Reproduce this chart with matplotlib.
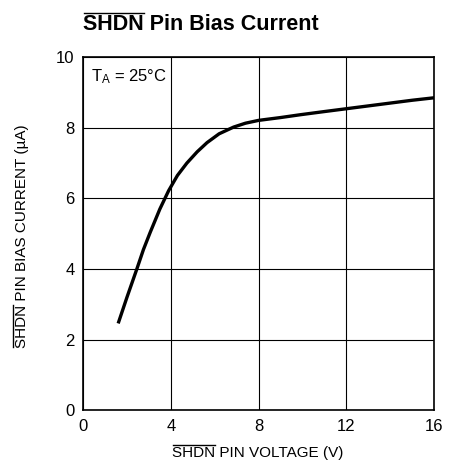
"""
SHDN pin bias current vs SHDN pin voltage
"""
import matplotlib
matplotlib.use('Agg')
import matplotlib.pyplot as plt
from matplotlib.lines import Line2D

FONT = ['Liberation Sans Narrow', 'Liberation Sans', 'DejaVu Sans']

VOLTAGE = [1.6, 2.0, 2.45, 2.75, 3.06, 3.5, 3.9, 4.3, 4.73, 5.2, 5.65, 6.2, 6.86,
           7.4, 8.0, 9.0, 9.9, 11.0, 12.0, 13.0, 14.0, 15.0, 16.0]
CURRENT = [2.46, 3.2, 4.0, 4.55, 5.04, 5.7, 6.22, 6.65, 7.0, 7.32, 7.58, 7.83, 8.02,
           8.13, 8.21, 8.29, 8.37, 8.46, 8.54, 8.62, 8.70, 8.78, 8.85]
X_TICKS = [0, 4, 8, 12, 16]
Y_TICKS = [0, 2, 4, 6, 8, 10]

fig = plt.figure(figsize=(4.49, 4.61), dpi=100)
ax = fig.add_axes([0.185, 0.11, 0.782, 0.766])
ax.plot(VOLTAGE, CURRENT, color='black', lw=2.4, solid_capstyle='butt',
        solid_joinstyle='round')
ax.set_xlim(0, 16)
ax.set_ylim(0, 10)
ax.set_xticks(X_TICKS)
ax.set_yticks(Y_TICKS)
ax.grid(True, color='black', lw=0.8)
ax.tick_params(length=0, labelsize=12, pad=6)
for lab in ax.get_xticklabels() + ax.get_yticklabels():
    lab.set_family(FONT)
for sp in ax.spines.values():
    sp.set_linewidth(1.2)

ax.text(0.35, 9.45, '$\\mathregular{T_A}$ = 25°C', fontsize=12, family=FONT,
        va='center', ha='left')

title = fig.text(83 / 449, 1 - 25 / 461, 'SHDN Pin Bias Current', fontsize=15.5,
                 weight='bold', family=FONT, va='center', ha='left')
xlab = fig.text(258 / 449, 1 - 453 / 461, 'SHDN PIN VOLTAGE (V)', fontsize=11,
                family=FONT, va='center', ha='center')
ylab = fig.text(22 / 449, 1 - 236 / 461, 'SHDN PIN BIAS CURRENT (µA)', fontsize=11,
                family=FONT, va='center', ha='center', rotation=90)

# overlines on "SHDN"
fig.canvas.draw()
r = fig.canvas.get_renderer()


def overline(txt, vertical=False):
    full = txt.get_window_extent(r)
    probe = fig.text(0, 0, 'SHDN', fontsize=txt.get_fontsize(),
                     weight=txt.get_weight(), family=FONT)
    w = probe.get_window_extent(r).width
    probe.remove()
    if vertical:
        x = full.x0 - 1.5
        fig.add_artist(Line2D([x, x], [full.y0 + 1, full.y0 + w], color='black',
                              lw=1.0, transform=None))
    else:
        y = full.y1 + 1.5
        fig.add_artist(Line2D([full.x0 + 1, full.x0 + w], [y, y], color='black',
                              lw=1.0, transform=None))


overline(title)
overline(xlab)
overline(ylab, vertical=True)

fig.savefig('out.png', dpi=100)
